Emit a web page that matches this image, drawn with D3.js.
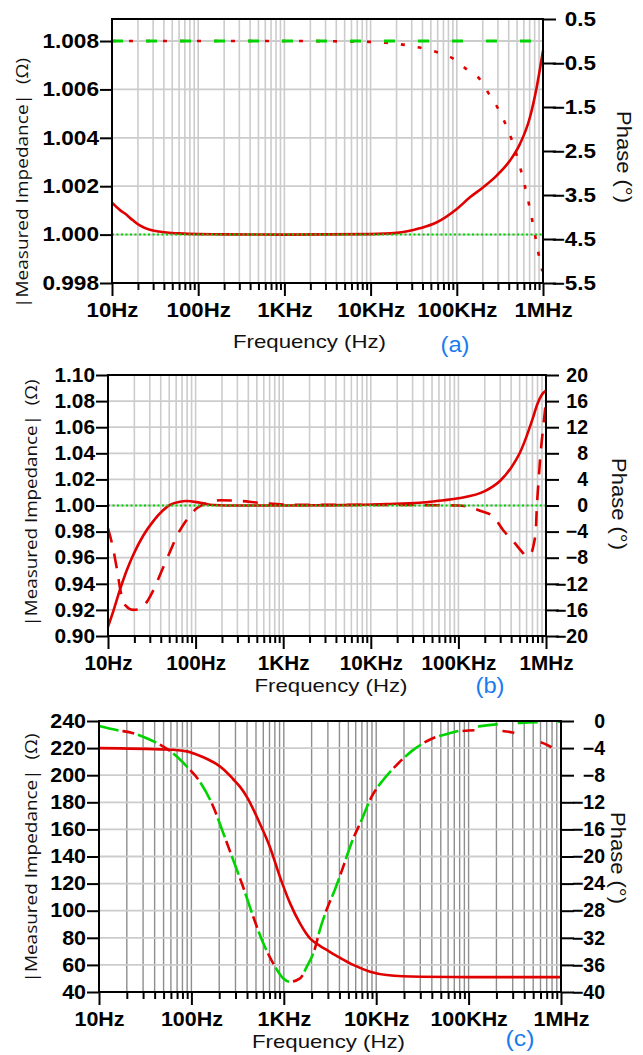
<!DOCTYPE html>
<html><head><meta charset="utf-8">
<script src="https://cdn.jsdelivr.net/npm/d3@7"></script>
<style>body{margin:0;background:#fff}svg{display:block}</style>
</head><body>
<svg id="chart" width="643" height="1055"></svg>
<script>
// ---------- data ----------
const xTickValues = [10, 100, 1e3, 1e4, 1e5, 1e6];
const xTickLabels = ["10Hz", "100Hz", "1KHz", "10KHz", "100KHz", "1MHz"];

// panel (a)
const aLeftTicks = [0.998, 1.000, 1.002, 1.004, 1.006, 1.008];
const aRightTicks = [0.5, -0.5, -1.5, -2.5, -3.5, -4.5, -5.5];
const aMagFreq = [10, 12.5, 14, 17.5, 21, 27.5, 35, 43, 60, 100, 200, 1000, 10000, 20000, 37000, 58000, 100000, 142000, 203000, 290000, 414000, 541000, 706000, 845000, 1000000];
const aMag     = [1.00132, 1.00100, 1.00088, 1.00059, 1.00038, 1.00020, 1.00013, 1.00009, 1.00005, 1.00002, 1.00001, 1.00000, 1.00002, 1.00007, 1.00026, 1.00050, 1.00106, 1.00154, 1.00196, 1.00244, 1.00306, 1.00375, 1.00485, 1.00609, 1.00760];
const aPhaseFreq = [10, 1000, 10000, 15000, 37000, 58000, 91000, 131000, 186000, 232000, 298000, 362000, 433000, 518000, 603000, 694000, 786000, 883000, 982000];
const aPhase     = [0, 0, -0.02, -0.04, -0.15, -0.25, -0.4, -0.65, -0.875, -1.18, -1.52, -1.86, -2.24, -2.73, -3.22, -3.75, -4.28, -4.81, -5.23];
const aIdealFreq = [10, 1000000];
const aIdealMag = [1.000, 1.000];
const aIdealPhase = [0, 0];

// panel (b)
const bLeftTicks = [0.90, 0.92, 0.94, 0.96, 0.98, 1.00, 1.02, 1.04, 1.06, 1.08, 1.10];
const bRightTicks = [-20, -16, -12, -8, -4, 0, 4, 8, 12, 16, 20];
const bMagFreq = [10, 11.5, 13.7, 16.3, 19.5, 25.3, 32.9, 42.8, 51, 66, 79, 112, 160, 300, 1000, 5000, 15000, 36000, 56000, 100000, 200000, 300000, 400000, 500000, 600000, 700000, 800000, 900000, 1000000];
const bMag     = [0.9070, 0.9190, 0.9355, 0.9500, 0.9625, 0.9770, 0.9880, 0.9965, 1.0004, 1.0029, 1.0034, 1.0021, 1.0004, 1.0000, 1.0000, 1.0003, 1.0011, 1.0021, 1.0034, 1.0055, 1.0110, 1.0190, 1.0290, 1.0400, 1.0530, 1.0660, 1.0780, 1.0850, 1.0880];
const bPhaseFreq = [10, 11.4, 12.7, 14, 16, 19.3, 23, 28.6, 34, 41.4, 51, 61, 80, 104, 135, 190, 323, 543, 1500, 10000, 100000, 140000, 176000, 250000, 325000, 443000, 540000, 601000, 660000, 716000, 769000, 783000, 820000, 855000, 931000, 1000000];
const bPhase     = [-3.5, -6.5, -9.9, -13.3, -15.4, -16.0, -15.9, -14.5, -12.6, -9.9, -7.1, -4.7, -2.1, -0.4, 0.4, 0.8, 0.7, 0.4, 0.1, 0.1, 0.0, -0.3, -0.8, -1.7, -3.8, -5.8, -7.2, -7.8, -7.5, -6.3, -3.2, -0.7, 3.5, 7.0, 12.1, 16.0];
const bIdealFreq = [10, 1000000];
const bIdealMag = [1.00, 1.00];

// panel (c)
const cLeftTicks = [40, 60, 80, 100, 120, 140, 160, 180, 200, 220, 240];
const cRightTicks = [0, -4, -8, -12, -16, -20, -24, -28, -32, -36, -40];
const cMagFreq = [10, 54, 89, 123, 150, 186, 230, 282, 340, 398, 550, 707, 908, 1170, 1497, 1922, 2460, 3000, 4000, 5650, 8600, 13000, 30000, 100000, 1000000];
const cMag     = [220, 219.0, 217.6, 214.4, 211.8, 208.3, 203.5, 197.2, 191.0, 184, 164.4, 147, 125, 105.4, 90.6, 79.5, 74, 70.5, 65.5, 60, 55, 52.5, 51.2, 51, 51];
const cPhaseFreq = [10, 15.5, 23.5, 32.8, 45.7, 63.7, 89, 124, 173, 222, 283, 363, 467, 600, 770, 990, 1170, 1500, 1770, 2170, 2460, 2900, 3570, 4400, 5400, 6950, 8900, 11900, 16600, 25000, 41000, 67000];
const cPhaseCommon = [-0.74, -1.33, -1.8, -2.55, -3.5, -4.8, -6.7, -9, -12.7, -16.6, -20.5, -24.5, -28.9, -32.8, -35.8, -38.0, -38.5, -38, -36.3, -33.6, -30.8, -27.9, -24.9, -21.5, -18, -14.6, -11.2, -8.7, -6.5, -4.3, -2.55, -1.7];
const cIdealTailFreq = [121000, 198000, 364000, 625000, 1000000];
const cIdealTail = [-0.84, -0.5, -0.27, -0.16, -0.11];
const cMeasTailFreq = [100000, 150000, 200000, 300000, 400000, 500000, 650000, 850000, 1000000];
const cMeasTail = [-1.4, -1.35, -1.4, -1.7, -2.2, -2.7, -3.3, -4.1, -4.6];

// ---------- drawing ----------
const svg = d3.select("#chart");
const FONT = '"Liberation Sans", Arial, Helvetica, sans-serif';
const RED = "#e00000", GREEN = "#00d400", BLUE = "#1a7cf0";

function stretch(sel, sx, anchorX) {
  sel.each(function () {
    const t = d3.select(this);
    const xx = anchorX !== undefined ? anchorX : (+t.attr("x") || 0);
    t.attr("x", 0).attr("transform", `translate(${xx},0) scale(${sx},1)`);
  });
}

function panel(cfg) {
  const g = svg.append("g");
  const x = d3.scaleLog().domain([10, 1e6]).range([cfg.left, cfg.right]);
  const yL = d3.scaleLinear().domain(cfg.leftDomain).range([cfg.bottom, cfg.top]);
  const yR = d3.scaleLinear().domain(cfg.rightDomain).range([cfg.bottom, cfg.top]);
  const allF = x.ticks();
  const minorF = allF.filter(f => !xTickValues.includes(f));

  // grid
  g.append("g").selectAll("line").data(allF).join("line")
    .attr("x1", d => x(d)).attr("x2", d => x(d))
    .attr("y1", cfg.top).attr("y2", cfg.bottom)
    .attr("stroke", cfg.vgrid).attr("stroke-width", cfg.vgw);
  g.append("g").selectAll("line").data(cfg.leftTicks).join("line")
    .attr("x1", cfg.left).attr("x2", cfg.right)
    .attr("y1", d => yL(d)).attr("y2", d => yL(d))
    .attr("stroke", "#cccccc").attr("stroke-width", 1.8);

  // curves
  for (const s of cfg.series) {
    const sc = s.axis === "L" ? yL : yR;
    const line = d3.line().x(d => x(d[0])).y(d => sc(d[1])).curve(d3.curveMonotoneX);
    const pts = s.f.map((f, i) => [f, s.v[i]]);
    g.append("path").attr("d", line(pts))
      .attr("fill", "none").attr("stroke", s.color).attr("stroke-width", s.w)
      .attr("stroke-dasharray", s.dash || null)
      .attr("stroke-dashoffset", s.offset || 0)
      .attr("stroke-linecap", s.cap || "butt");
  }

  // frame
  g.append("rect").attr("x", cfg.left).attr("y", cfg.top)
    .attr("width", cfg.right - cfg.left).attr("height", cfg.bottom - cfg.top)
    .attr("fill", "none").attr("stroke", "#000").attr("stroke-width", 2);

  const tickStyle = sel => {
    sel.select(".domain").remove();
    sel.selectAll("line").attr("stroke", "#000").attr("stroke-width", 2);
    sel.selectAll("text").attr("fill", "#000").style("font-family", FONT)
      .style("font-weight", "bold").style("font-size", "19.5px");
  };

  // left axis
  const gl = g.append("g").attr("transform", `translate(${cfg.left},0)`)
    .call(d3.axisLeft(yL).tickValues(cfg.leftTicks).tickFormat(cfg.leftFmt).tickSize(12).tickPadding(1));
  tickStyle(gl);
  stretch(gl.selectAll("text"), cfg.sxL);

  // right axis
  const gr = g.append("g").attr("transform", `translate(${cfg.right},0)`)
    .call(d3.axisRight(yR).tickValues(cfg.rightTicks).tickFormat(cfg.rightFmt).tickSize(13));
  tickStyle(gr);
  gr.selectAll("text").attr("text-anchor", "end");
  stretch(gr.selectAll("text"), cfg.sxR, cfg.rightLabelEnd);

  // bottom axis major
  const gb = g.append("g").attr("transform", `translate(0,${cfg.bottom})`)
    .call(d3.axisBottom(x).tickValues(xTickValues).tickFormat((d, i) => xTickLabels[i]).tickSize(13));
  tickStyle(gb);
  gb.selectAll("text").attr("y", 20.2);
  stretch(gb.selectAll("text"), cfg.sxB);
  // bottom axis minor
  const gm = g.append("g").attr("transform", `translate(0,${cfg.bottom})`)
    .call(d3.axisBottom(x).tickValues(minorF).tickFormat("").tickSize(7));
  tickStyle(gm);

  // y label
  g.append("text")
    .attr("transform", `translate(${cfg.ylab[0]},${cfg.ylab[1]}) rotate(-90)`)
    .attr("text-anchor", "middle")
    .attr("textLength", cfg.ylab[2]).attr("lengthAdjust", "spacingAndGlyphs")
    .style("font-family", '"Open Sans", "Noto Sans", sans-serif').style("font-size", "17px")
    .attr("fill", "#111").text("|Measured Impedance|\u00A0 (\u03A9)");
  // phase label
  g.append("text")
    .attr("transform", `translate(${cfg.plab[0]},${cfg.plab[1]}) rotate(90)`)
    .attr("text-anchor", "middle")
    .attr("textLength", 92).attr("lengthAdjust", "spacingAndGlyphs")
    .style("font-family", FONT).style("font-size", "21px")
    .attr("fill", "#111").text("Phase (\u00B0)");
  // x label
  g.append("text")
    .attr("x", cfg.xlab[0]).attr("y", cfg.xlab[1])
    .attr("text-anchor", "middle")
    .attr("textLength", 153).attr("lengthAdjust", "spacingAndGlyphs")
    .style("font-family", FONT).style("font-size", "19px")
    .attr("fill", "#111").text("Frequency (Hz)");
  // panel tag
  g.append("text")
    .attr("x", cfg.tag[0]).attr("y", cfg.tag[1])
    .attr("text-anchor", "middle")
    .attr("textLength", 29).attr("lengthAdjust", "spacingAndGlyphs")
    .style("font-family", FONT).style("font-size", "22px")
    .attr("fill", BLUE).text(cfg.tag[2]);
}

panel({
  left: 112, right: 543, top: 19, bottom: 283,
  leftDomain: [0.998, 1.00891], rightDomain: [-5.5, 0.5],
  leftTicks: aLeftTicks, rightTicks: aRightTicks,
  leftFmt: d3.format(".3f"), rightFmt: d3.format(".1f"),
  sxL: 1.16, sxR: 1.15, sxB: 1.14, rightLabelEnd: 53,
  vgrid: "#cccccc", vgw: 1.6,
  ylab: [28, 183, 250], plab: [617, 157], xlab: [309.5, 348], tag: [455, 352, "(a)"],
  series: [
    { f: aPhaseFreq, v: aPhase, axis: "R", color: RED, w: 2.6, dash: "4,13" },
    { f: aIdealFreq, v: aIdealPhase, axis: "R", color: GREEN, w: 3, dash: "11,23" },
    { f: aMagFreq, v: aMag, axis: "L", color: RED, w: 2.6 },
    { f: aIdealFreq, v: aIdealMag, axis: "L", color: GREEN, w: 2, dash: "2,2.5" }
  ]
});

panel({
  left: 108, right: 546, top: 375, bottom: 636,
  leftDomain: [0.90, 1.10], rightDomain: [-20, 20],
  leftTicks: bLeftTicks, rightTicks: bRightTicks,
  leftFmt: d3.format(".2f"), rightFmt: d3.format("d"),
  sxL: 1.07, sxR: 1.0, sxB: 1.06, rightLabelEnd: 42,
  vgrid: "#cccccc", vgw: 1.6,
  ylab: [37, 503, 247], plab: [612, 504], xlab: [331, 692], tag: [490, 693, "(b)"],
  series: [
    { f: bPhaseFreq, v: bPhase, axis: "R", color: RED, w: 2.6, dash: "15,11" },
    { f: bMagFreq, v: bMag, axis: "L", color: RED, w: 2.6 },
    { f: bIdealFreq, v: bIdealMag, axis: "L", color: GREEN, w: 2, dash: "2,2.5" }
  ]
});

panel({
  left: 99, right: 561, top: 721, bottom: 992,
  leftDomain: [40, 240], rightDomain: [-40, 0],
  leftTicks: cLeftTicks, rightTicks: cRightTicks,
  leftFmt: d3.format("d"), rightFmt: d3.format("d"),
  sxL: 1.1, sxR: 1.0, sxB: 1.1, rightLabelEnd: 44,
  vgrid: "#8e8e8e", vgw: 1.4,
  ylab: [37, 858, 249], plab: [611, 858], xlab: [328.5, 1048], tag: [520, 1046, "(c)"],
  series: [
    { f: cPhaseFreq.concat(cMeasTailFreq), v: cPhaseCommon.concat(cMeasTail), axis: "R", color: RED, w: 2.6, dash: "12,28", offset: -24 },
    { f: cPhaseFreq.concat(cIdealTailFreq), v: cPhaseCommon.concat(cIdealTail), axis: "R", color: GREEN, w: 2.6, dash: "20,20" },
    { f: cMagFreq, v: cMag, axis: "L", color: RED, w: 2.6 }
  ]
});
</script>
</body></html>
